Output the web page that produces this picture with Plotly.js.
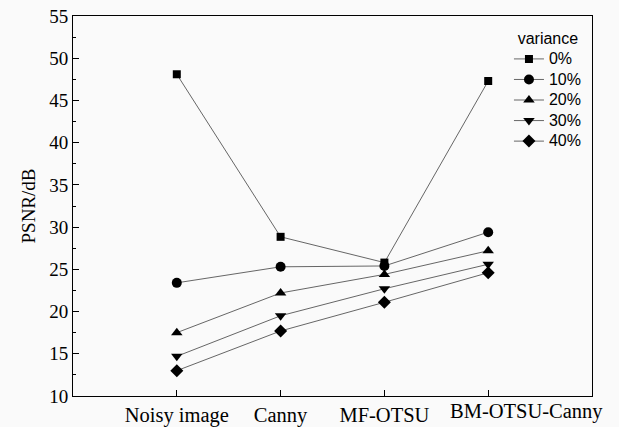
<!DOCTYPE html>
<html>
<head>
<meta charset="utf-8">
<script src="https://cdn.plot.ly/plotly-3.0.1.min.js"></script>
<style>html,body{margin:0;padding:0;background:#fafafa;}#chart{width:619px;height:427px;}</style>
</head>
<body>
<div id="chart"></div>
<script>
const categories = ["Noisy image", "Canny", "MF-OTSU", "BM-OTSU-Canny"];
const seriesNames = ["0%", "10%", "20%", "30%", "40%"];
const v0  = [48.1, 28.85, 25.8, 47.3];
const v10 = [23.4, 25.3, 25.4, 29.4];
const v20 = [17.5, 22.2, 24.4, 27.2];
const v30 = [14.7, 19.5, 22.7, 25.6];
const v40 = [13.0, 17.7, 21.1, 24.6];
const seriesValues = [v0, v10, v20, v30, v40];
const symbols = ["square", "circle", "triangle-up", "triangle-down", "diamond"];
const sizes = [8, 10, 10, 10, 10];

const serif = "Liberation Serif";
const sans = "Liberation Sans";

const traces = seriesValues.map((vals, i) => ({
  type: "scatter",
  mode: "lines+markers",
  x: categories,
  y: vals,
  name: '<span style="font-size:16px">' + seriesNames[i] + '</span>',
  line: {color: "#555555", width: 0.9},
  marker: {symbol: symbols[i], size: sizes[i], color: "#000000"}
}));

// last category label is drawn shifted right (as in the reference) to avoid overlap
const tickText = categories.map((c, i) => i === categories.length - 1 ? "" : c);

const layout = {
  width: 619, height: 427,
  paper_bgcolor: "#fafafa",
  plot_bgcolor: "#fafafa",
  margin: {l: 73, r: 27, t: 16, b: 31},
  showlegend: true,
  legend: {
    x: 0.84, y: 0.982, xanchor: "left", yanchor: "top",
    bgcolor: "rgba(0,0,0,0)",
    font: {family: sans, size: 13.5, color: "#000"},
    title: {text: "variance", side: "top center", font: {family: sans, size: 16, color: "#000"}},
    tracegroupgap: 0
  },
  xaxis: {
    type: "category",
    range: [-1, 4],
    tickangle: 0,
    tickvals: categories,
    ticktext: tickText,
    showline: true, linecolor: "#000", linewidth: 1, mirror: true,
    ticks: "inside", ticklen: 6, tickcolor: "#000",
    showgrid: false, zeroline: false,
    tickfont: {family: serif, size: 20.5, color: "#000"}
  },
  yaxis: {
    range: [10, 55],
    dtick: 5,
    showline: true, linecolor: "#000", linewidth: 1, mirror: true,
    ticks: "inside", ticklen: 6, tickcolor: "#000",
    minor: {dtick: 2.5, ticks: "inside", ticklen: 3, tickcolor: "#000"},
    showgrid: false, zeroline: false,
    tickfont: {family: serif, size: 19, color: "#000"},
    title: {text: "PSNR/dB", standoff: 8, font: {family: serif, size: 19, color: "#000"}}
  },
  annotations: [{
    text: categories[categories.length - 1],
    xref: "x", yref: "paper",
    x: categories[categories.length - 1], y: 0,
    xanchor: "center", yanchor: "top",
    xshift: 38, yshift: -2,
    showarrow: false,
    font: {family: serif, size: 20.5, color: "#000"}
  }]
};

Plotly.newPlot("chart", traces, layout, {displayModeBar: false, staticPlot: true});
</script>
</body>
</html>
